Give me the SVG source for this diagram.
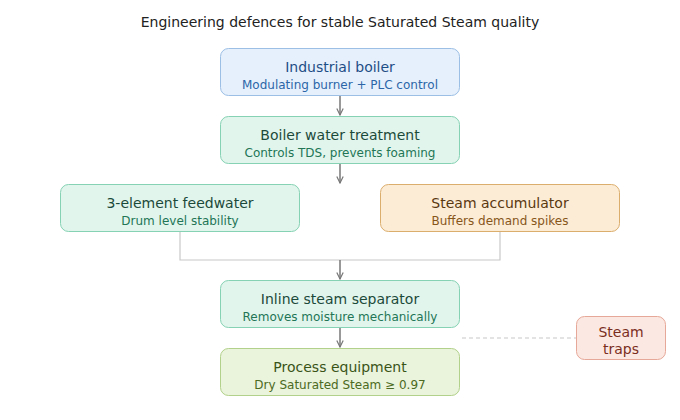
<svg xmlns="http://www.w3.org/2000/svg" width="680" height="420" viewBox="0 0 680 420">
<defs>
<marker id="arr" viewBox="0 0 10 10" refX="9" refY="5" markerWidth="8" markerHeight="8" orient="auto" markerUnits="userSpaceOnUse">
<path d="M1,1 L9,5 L1,9" fill="none" stroke="#777" stroke-width="1.5"/>
</marker>
<style>
text{font-family:"DejaVu Sans","Liberation Sans",sans-serif;text-anchor:middle}
.t{font-size:14px}
.s{font-size:12px}
.blue rect{fill:#e6f0fc;stroke:#9cbfe6}
.blue .t{fill:#1e4e86}.blue .s{fill:#2c66a8}
.green rect{fill:#e1f5ed;stroke:#86d2b4}
.green .t{fill:#1c4a3a}.green .s{fill:#237556}
.orange rect{fill:#fcecd6;stroke:#dcae6e}
.orange .t{fill:#5a3810}.orange .s{fill:#87561a}
.lime rect{fill:#eaf3dc;stroke:#b2d18a}
.lime .t{fill:#3a5418}.lime .s{fill:#4c6a22}
.red rect{fill:#fce8e2;stroke:#e6a898}
.red .t{fill:#7a2e1e}
.conn{fill:none;stroke:#777;stroke-width:1.5}
.soft{fill:none;stroke:#c8c8c8;stroke-width:1.2}
.dash{fill:none;stroke:#c8c8c8;stroke-width:1.2;stroke-dasharray:4 3}
</style>
</defs>
<rect width="680" height="420" fill="#ffffff"/>
<text x="340" y="27" style="font-size:14px;fill:#222">Engineering defences for stable Saturated Steam quality</text>
<g id="connectors">
<path class="conn" d="M340,96 V115" marker-end="url(#arr)"/>
<path class="conn" d="M340,164 V183" marker-end="url(#arr)"/>
<path class="soft" d="M180,232 V260 H500 V232"/>
<path class="conn" d="M340,260 V279" marker-end="url(#arr)"/>
<path class="conn" d="M340,328 V347" marker-end="url(#arr)"/>
<path class="dash" d="M462,338 H576"/>
</g>
<g id="boiler" class="blue">
<rect x="220.5" y="48.5" width="239" height="47" rx="8"/>
<text class="t" x="340" y="72">Industrial boiler</text>
<text class="s" x="340" y="89">Modulating burner + PLC control</text>
</g>
<g id="treatment" class="green">
<rect x="220.5" y="116.5" width="239" height="47" rx="8"/>
<text class="t" x="340" y="140">Boiler water treatment</text>
<text class="s" x="340" y="157">Controls TDS, prevents foaming</text>
</g>
<g id="feedwater" class="green">
<rect x="60.5" y="184.5" width="239" height="47" rx="8"/>
<text class="t" x="180" y="208">3-element feedwater</text>
<text class="s" x="180" y="225">Drum level stability</text>
</g>
<g id="accumulator" class="orange">
<rect x="380.5" y="184.5" width="239" height="47" rx="8"/>
<text class="t" x="500" y="208">Steam accumulator</text>
<text class="s" x="500" y="225">Buffers demand spikes</text>
</g>
<g id="separator" class="green">
<rect x="220.5" y="280.5" width="239" height="47" rx="8"/>
<text class="t" x="340" y="304">Inline steam separator</text>
<text class="s" x="340" y="321">Removes moisture mechanically</text>
</g>
<g id="process" class="lime">
<rect x="220.5" y="348.5" width="239" height="47" rx="8"/>
<text class="t" x="340" y="372">Process equipment</text>
<text class="s" x="340" y="389">Dry Saturated Steam ≥ 0.97</text>
</g>
<g id="traps" class="red">
<rect x="576.5" y="316.5" width="89" height="43" rx="8"/>
<text class="t" x="621" y="337">Steam</text>
<text class="t" x="621" y="354">traps</text>
</g>
</svg>
